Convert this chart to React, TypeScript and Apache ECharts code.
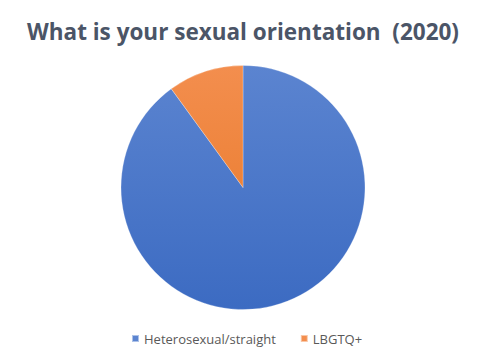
import React, { useEffect, useRef } from "react";
import * as echarts from "echarts";

const categories = ["Heterosexual/straight", "LBGTQ+"];
const values = [90, 10];
const titleText = "What is your sexual orientation  (2020)";

export default function App() {
  const ref = useRef<HTMLDivElement>(null);
  useEffect(() => {
    if (!ref.current) return;
    const chart = echarts.init(ref.current, null, { renderer: "svg" });
    const grad = (top: string, bottom: string) =>
      new echarts.graphic.LinearGradient(0, 66, 0, 309, [
        { offset: 0, color: top },
        { offset: 1, color: bottom },
      ], true);
    const colors = [grad("#5b84d0", "#3c6bc2"), grad("#f38e4e", "#e77624")];
    chart.setOption({
      animation: false,
      backgroundColor: "#ffffff",
      title: {
        text: titleText,
        left: 22,
        top: 15,
        textStyle: {
          fontFamily: "Open Sans",
          fontWeight: "bold",
          fontSize: 22.5,
          color: "#4b5567",
        },
      },
      legend: {
        bottom: 7,
        left: 126,
        itemWidth: 7,
        itemHeight: 7,
        itemGap: 24,
        icon: "rect",
        textStyle: { fontFamily: "Open Sans", fontSize: 13, color: "#595959" },
        data: categories,
      },
      series: [
        {
          type: "pie",
          center: [243, 187.5],
          radius: 122,
          startAngle: 90,
          clockwise: true,
          label: { show: false },
          labelLine: { show: false },
          emphasis: { disabled: true },
          itemStyle: { borderColor: "rgba(255,255,255,0.5)", borderWidth: 0.5 },
          data: categories.map((name, i) => ({
            name,
            value: values[i],
            itemStyle: { color: colors[i] },
          })),
        },
      ],
    });
    return () => chart.dispose();
  }, []);
  return <div ref={ref} style={{ width: 500, height: 357, margin: -8 }} />;
}
